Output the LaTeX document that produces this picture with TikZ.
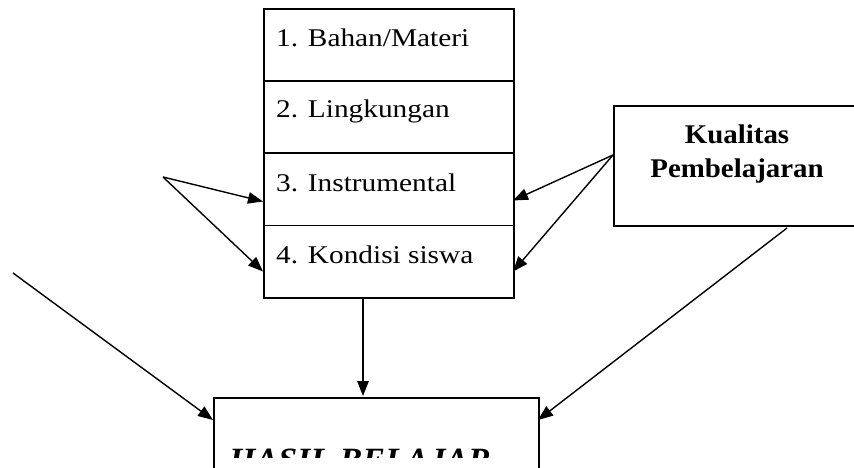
\documentclass[tikz,border=0pt]{standalone}
\usepackage{fontspec}
\setmainfont{Liberation Serif}
\usetikzlibrary{arrows.meta}
\newcommand\widetext[2][1.15]{\scalebox{#1}[1]{#2}}
\begin{document}
\begin{tikzpicture}[x=1pt,y=-1pt,
  frame/.style={draw,line width=1.6pt,inner sep=0pt,anchor=north west},
  stackbox/.style={frame,minimum width=250pt,minimum height=72.25pt},
  itemtext/.style={anchor=base west,inner sep=0pt,font=\fontsize{25.5}{30}\selectfont},
  headtext/.style={anchor=base,inner sep=0pt,font=\fontsize{27}{33}\selectfont\bfseries},
  flow/.style={line width=1.4pt,-{Triangle[length=15pt,width=11.5pt]}}]
\useasboundingbox (0,0) rectangle (854,468);
\fill[white] (0,0) rectangle (854,468);
\clip (0,0) rectangle (854,468);

% stack of four factors
\node[stackbox] (b1) at (263,8) {};
\node[stackbox] (b2) at (263,80.25) {};
\node[stackbox] (b3) at (263,152.5) {};
\node[stackbox] (b4) at (263,224.75) {};
\node[itemtext] (t1) at (276,47) {\widetext{1. Bahan/Materi}};
\node[itemtext] (t2) at (276,118) {\widetext{2. Lingkungan}};
\node[itemtext] (t3) at (276,191) {\widetext{3. Instrumental}};
\node[itemtext] (t4) at (276,263) {\widetext{4. Kondisi siswa}};

% quality box on the right
\node[frame,minimum width=250pt,minimum height=120pt] (kq) at (613,105) {};
\node[headtext] (k1) at (737,143) {\widetext[1.07]{Kualitas}};
\node[headtext] (k2) at (737,178) {\widetext[1.07]{Pembelajaran}};

% result box at the bottom, its text cut by the box's text area
\node[frame,minimum width=325pt,minimum height=90pt] (hb) at (213,397) {};
\begin{scope}
  \clip (213,397) rectangle (538,457);
  \node[anchor=base west,inner sep=0pt,font=\fontsize{34}{40}\selectfont\bfseries\itshape] (ht) at (229,471.5) {HASIL BELAJAR};
\end{scope}

% connector points
\coordinate (lsrc) at (163,177);
\coordinate (ksrc) at (613,155);
\coordinate (l3) at (263,201.5);
\coordinate (l4) at (263,271.5);
\coordinate (r3) at (513,200.5);
\coordinate (r4) at (513,271.5);
\coordinate (farl) at (13,273);
\coordinate (hl) at (213,420);
\coordinate (farr) at (787,228);
\coordinate (hr) at (538,420);
\coordinate (b4out) at (363,297);
\coordinate (hin) at (363,396);

\draw[flow] (lsrc) -- (l3);
\draw[flow] (lsrc) -- (l4);
\draw[flow] (ksrc) -- (r3);
\draw[flow] (ksrc) -- (r4);
\draw[flow] (farl) -- (hl);
\draw[flow] (farr) -- (hr);
\draw[flow] (b4out) -- (hin);
\end{tikzpicture}
\end{document}
